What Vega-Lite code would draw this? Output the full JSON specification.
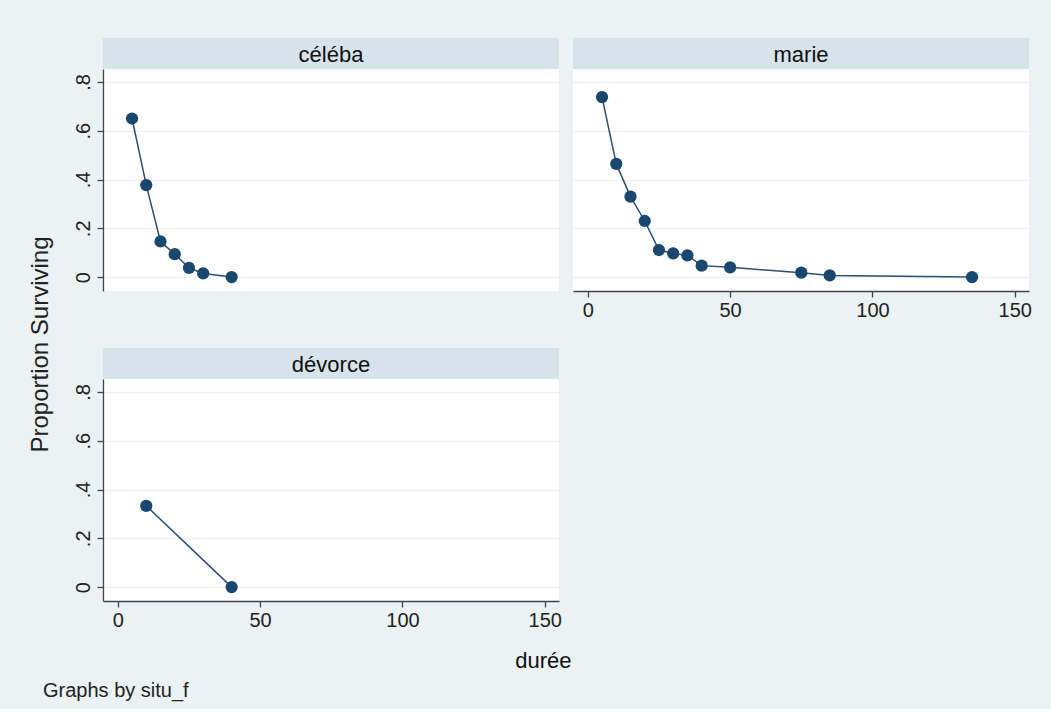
{
  "$schema": "https://vega.github.io/schema/vega-lite/v6.json",
  "background": "#eaf2f3",
  "padding": {"left": 28, "top": 38, "right": 19, "bottom": 8},
  "config": {
    "font": "Liberation Sans",
    "view": {"stroke": null, "fill": "white"},
    "axis": {"labelFont": "Liberation Sans", "titleFont": "Liberation Sans", "labelColor": "#222", "titleColor": "#111", "domainColor": "#444", "tickColor": "#444", "gridColor": "#edf3f5", "gridWidth": 1.5, "labelFontSize": 20, "tickSize": 6, "domainWidth": 1.3, "tickWidth": 1.3},
    "concat": {"spacing": 14},
    "title": {"font": "Liberation Sans", "color": "#222", "fontWeight": "normal"}
  },
  "datasets": {
    "surv": [
      {"situ": "céléba", "duree": 5, "surv": 0.65},
      {"situ": "céléba", "duree": 10, "surv": 0.377},
      {"situ": "céléba", "duree": 15, "surv": 0.146},
      {"situ": "céléba", "duree": 20, "surv": 0.094},
      {"situ": "céléba", "duree": 25, "surv": 0.038},
      {"situ": "céléba", "duree": 30, "surv": 0.015},
      {"situ": "céléba", "duree": 40, "surv": 0},
      {"situ": "marie", "duree": 5, "surv": 0.738},
      {"situ": "marie", "duree": 10, "surv": 0.464},
      {"situ": "marie", "duree": 15, "surv": 0.33},
      {"situ": "marie", "duree": 20, "surv": 0.23},
      {"situ": "marie", "duree": 25, "surv": 0.111},
      {"situ": "marie", "duree": 30, "surv": 0.097},
      {"situ": "marie", "duree": 35, "surv": 0.089},
      {"situ": "marie", "duree": 40, "surv": 0.047},
      {"situ": "marie", "duree": 50, "surv": 0.04},
      {"situ": "marie", "duree": 75, "surv": 0.018},
      {"situ": "marie", "duree": 85, "surv": 0.007},
      {"situ": "marie", "duree": 135, "surv": 0},
      {"situ": "dévorce", "duree": 10, "surv": 0.333},
      {"situ": "dévorce", "duree": 40, "surv": 0}
    ],
    "labels": [
      {"situ": "céléba"},
      {"situ": "marie"},
      {"situ": "dévorce"}
    ]
  },
  "title": {"text": "Graphs by situ_f", "orient": "bottom", "anchor": "start", "fontSize": 20, "offset": 10, "dx": 14},
  "vconcat": [
    {
      "title": {"text": "Proportion Surviving", "orient": "left", "anchor": "middle", "fontSize": 24, "offset": 20, "dx": 10},
      "spacing": 28,
      "vconcat": [
        {
          "hconcat": [
            {
              "spacing": 0,
              "vconcat": [
                {
                  "width": 456, "height": 31,
                  "view": {"fill": "#d6e3ea", "stroke": null},
                  "data": {"name": "labels"},
                  "transform": [{"filter": "datum.situ == 'céléba'"}],
                  "mark": {"type": "text", "fontSize": 22, "color": "#111", "baseline": "middle", "dy": 1},
                  "encoding": {"text": {"field": "situ"}}
                },
                {
                  "width": 456, "height": 222,
                  "data": {"name": "surv"},
                  "transform": [{"filter": "datum.situ == 'céléba'"}],
                  "encoding": {
                    "x": {"field": "duree", "type": "quantitative", "scale": {"domain": [-5.2, 155], "nice": false, "zero": false}, "axis": null},
                    "y": {"field": "surv", "type": "quantitative", "scale": {"domain": [-0.057, 0.853], "nice": false, "zero": false},
                      "axis": {"title": null, "values": [0, 0.2, 0.4, 0.6, 0.8], "labelAngle": -90, "labelAlign": "center", "labelBaseline": "bottom", "labelPadding": 4, "labelExpr": "datum.value == 0 ? '0' : '.' + format(datum.value * 10, 'd')"}}
                  },
                  "layer": [
                    {"mark": {"type": "line", "color": "#2c4f73", "strokeWidth": 1.5}},
                    {"mark": {"type": "point", "filled": true, "size": 150, "color": "#1a476f", "opacity": 1}}
                  ]
                }
              ]
            },
            {
              "spacing": 0,
              "vconcat": [
                {
                  "width": 456, "height": 31,
                  "view": {"fill": "#d6e3ea", "stroke": null},
                  "data": {"name": "labels"},
                  "transform": [{"filter": "datum.situ == 'marie'"}],
                  "mark": {"type": "text", "fontSize": 22, "color": "#111", "baseline": "middle", "dy": 1},
                  "encoding": {"text": {"field": "situ"}}
                },
                {
                  "width": 456, "height": 222,
                  "data": {"name": "surv"},
                  "transform": [{"filter": "datum.situ == 'marie'"}],
                  "encoding": {
                    "x": {"field": "duree", "type": "quantitative", "scale": {"domain": [-5.2, 155], "nice": false, "zero": false},
                      "axis": {"title": null, "values": [0, 50, 100, 150], "grid": false, "labelPadding": 3}},
                    "y": {"field": "surv", "type": "quantitative", "scale": {"domain": [-0.057, 0.853], "nice": false, "zero": false},
                      "axis": {"title": null, "values": [0, 0.2, 0.4, 0.6, 0.8], "labels": false, "ticks": false, "domain": false}}
                  },
                  "layer": [
                    {"mark": {"type": "line", "color": "#2c4f73", "strokeWidth": 1.5}},
                    {"mark": {"type": "point", "filled": true, "size": 150, "color": "#1a476f", "opacity": 1}}
                  ]
                }
              ]
            }
          ]
        },
        {
          "spacing": 0,
          "vconcat": [
            {
              "width": 456, "height": 31,
              "view": {"fill": "#d6e3ea", "stroke": null},
              "data": {"name": "labels"},
              "transform": [{"filter": "datum.situ == 'dévorce'"}],
              "mark": {"type": "text", "fontSize": 22, "color": "#111", "baseline": "middle", "dy": 1},
              "encoding": {"text": {"field": "situ"}}
            },
            {
              "width": 456, "height": 222,
              "data": {"name": "surv"},
              "transform": [{"filter": "datum.situ == 'dévorce'"}],
              "encoding": {
                "x": {"field": "duree", "type": "quantitative", "scale": {"domain": [-5.2, 155], "nice": false, "zero": false},
                  "axis": {"title": "durée", "titleFontSize": 22, "titleFontWeight": "normal", "titleAnchor": "end", "titleAlign": "right", "titleX": 468, "titlePadding": 20, "values": [0, 50, 100, 150], "grid": false, "labelPadding": 3}},
                "y": {"field": "surv", "type": "quantitative", "scale": {"domain": [-0.057, 0.853], "nice": false, "zero": false},
                  "axis": {"title": null, "values": [0, 0.2, 0.4, 0.6, 0.8], "labelAngle": -90, "labelAlign": "center", "labelBaseline": "bottom", "labelPadding": 4, "labelExpr": "datum.value == 0 ? '0' : '.' + format(datum.value * 10, 'd')"}}
              },
              "layer": [
                {"mark": {"type": "line", "color": "#2c4f73", "strokeWidth": 1.5}},
                {"mark": {"type": "point", "filled": true, "size": 150, "color": "#1a476f", "opacity": 1}}
              ]
            }
          ]
        }
      ]
    }
  ]
}
